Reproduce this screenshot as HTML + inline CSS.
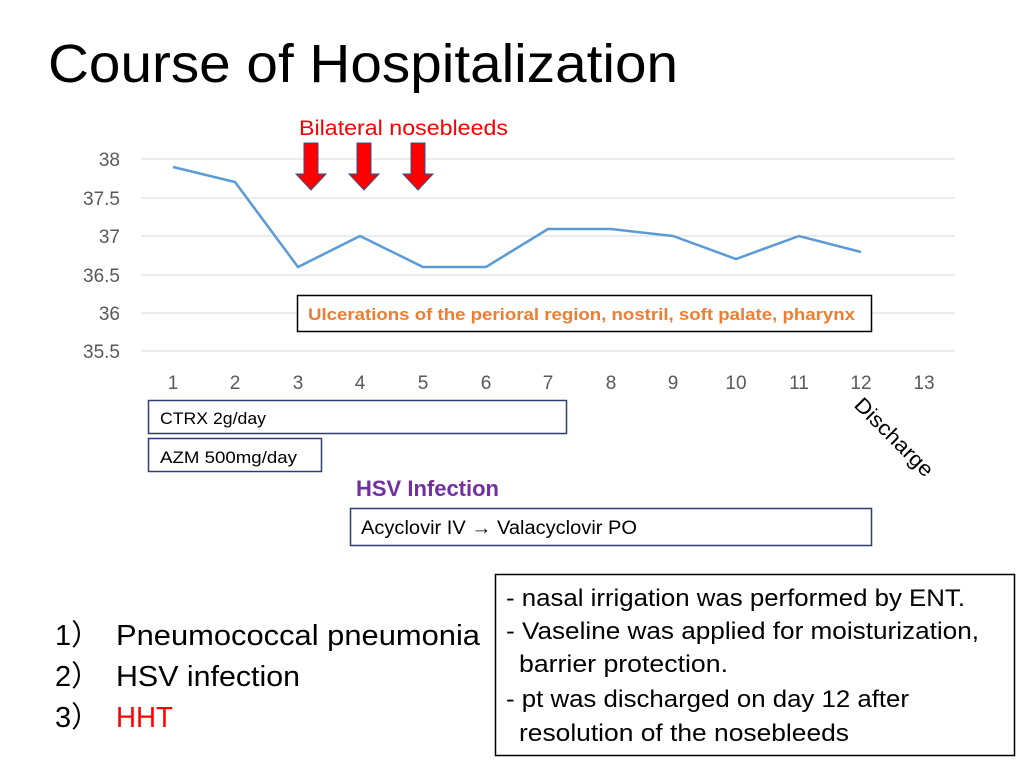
<!DOCTYPE html>
<html><head><meta charset="utf-8"><style>
body{margin:0;width:1024px;height:768px;background:#fff;overflow:hidden;font-family:"Liberation Sans",sans-serif}
svg{position:absolute;left:0;top:0}
</style></head><body>
<svg width="1024" height="768" xmlns="http://www.w3.org/2000/svg" font-family="Liberation Sans, sans-serif">
<text x="48" y="82" font-size="54" fill="#000" textLength="630" lengthAdjust="spacingAndGlyphs">Course of Hospitalization</text>
<text x="299" y="135" font-size="21" fill="#f00" textLength="209" lengthAdjust="spacingAndGlyphs">Bilateral nosebleeds</text>
<g stroke="#d9d9d9" stroke-width="1">
<line x1="141" y1="159" x2="955" y2="159"/><line x1="141" y1="198" x2="955" y2="198"/>
<line x1="141" y1="236" x2="955" y2="236"/><line x1="141" y1="275" x2="955" y2="275"/>
<line x1="141" y1="313" x2="955" y2="313"/><line x1="141" y1="351" x2="955" y2="351"/>
</g>
<g font-size="19" fill="#595959" text-anchor="end">
<text x="120" y="166">38</text><text x="120" y="205">37.5</text><text x="120" y="243">37</text>
<text x="120" y="282">36.5</text><text x="120" y="320">36</text><text x="120" y="358">35.5</text>
</g>
<g font-size="19" fill="#595959" text-anchor="middle">
<text x="173" y="389">1</text><text x="235" y="389">2</text><text x="298" y="389">3</text><text x="360" y="389">4</text>
<text x="423" y="389">5</text><text x="486" y="389">6</text><text x="548" y="389">7</text><text x="611" y="389">8</text>
<text x="673" y="389">9</text><text x="736" y="389">10</text><text x="799" y="389">11</text><text x="861" y="389">12</text><text x="924" y="389">13</text>
</g>
<polyline fill="none" stroke="#5b9bd5" stroke-width="2.5" points="173,167 235,182 298,267 360,236 423,267 486,267 548,229 611,229 673,236 736,259 799,236 861,252"/>
<g fill="#f00" stroke="#2f528f" stroke-width="1">
<polygon points="304,143 318,143 318,174 326,174 311,190 296,174 304,174"/>
<polygon points="357,143 371,143 371,174 379,174 364,190 349,174 357,174"/>
<polygon points="411,143 425,143 425,174 433,174 418,190 403,174 411,174"/>
</g>
<rect x="297.5" y="295.5" width="574" height="36" fill="#fff" stroke="#000" stroke-width="1.5"/>
<text x="308" y="320" font-size="17" font-weight="bold" fill="#ed7d31" textLength="547" lengthAdjust="spacingAndGlyphs">Ulcerations of the perioral region, nostril, soft palate, pharynx</text>
<rect x="148.5" y="400.5" width="418" height="33" fill="#fff" stroke="#2f3e6e" stroke-width="1.5"/>
<text x="160" y="424" font-size="17" fill="#000" textLength="106" lengthAdjust="spacingAndGlyphs">CTRX 2g/day</text>
<rect x="148.5" y="438.5" width="173" height="33" fill="#fff" stroke="#2f3e6e" stroke-width="1.5"/>
<text x="160" y="463" font-size="17" fill="#000" textLength="137" lengthAdjust="spacingAndGlyphs">AZM 500mg/day</text>
<text x="356" y="496" font-size="22" font-weight="bold" fill="#7030a0" textLength="143" lengthAdjust="spacingAndGlyphs">HSV Infection</text>
<rect x="350.5" y="508.5" width="521" height="37" fill="#fff" stroke="#2f3e6e" stroke-width="1.5"/>
<text x="361" y="534" font-size="19" fill="#000" textLength="276" lengthAdjust="spacingAndGlyphs">Acyclovir IV → Valacyclovir PO</text>
<text x="0" y="0" font-size="21" fill="#000" transform="translate(853,406) rotate(45)" textLength="102" lengthAdjust="spacingAndGlyphs">Discharge</text>
<g font-size="29" fill="#000">
<text x="55" y="645" font-family="Liberation Sans, Noto Sans CJK JP, sans-serif">1）</text><text x="116" y="645" textLength="364" lengthAdjust="spacingAndGlyphs">Pneumococcal pneumonia</text>
<text x="55" y="686" font-family="Liberation Sans, Noto Sans CJK JP, sans-serif">2）</text><text x="116" y="686" textLength="184" lengthAdjust="spacingAndGlyphs">HSV infection</text>
<text x="55" y="727" font-family="Liberation Sans, Noto Sans CJK JP, sans-serif">3）</text><text x="116" y="727" fill="#f00" textLength="57" lengthAdjust="spacingAndGlyphs">HHT</text>
</g>
<rect x="495.5" y="574.5" width="519" height="181" fill="#fff" stroke="#000" stroke-width="1.5"/>
<g font-size="24" fill="#000" lengthAdjust="spacingAndGlyphs">
<text x="506" y="606" textLength="459" lengthAdjust="spacingAndGlyphs">- nasal irrigation was performed by ENT.</text>
<text x="506" y="639" textLength="473" lengthAdjust="spacingAndGlyphs">- Vaseline was applied for moisturization,</text>
<text x="519" y="672" textLength="209" lengthAdjust="spacingAndGlyphs">barrier protection.</text>
<text x="506" y="707" textLength="403" lengthAdjust="spacingAndGlyphs">- pt was discharged on day 12 after</text>
<text x="519" y="741" textLength="330" lengthAdjust="spacingAndGlyphs">resolution of the nosebleeds</text>
</g>
</svg>
</body></html>
